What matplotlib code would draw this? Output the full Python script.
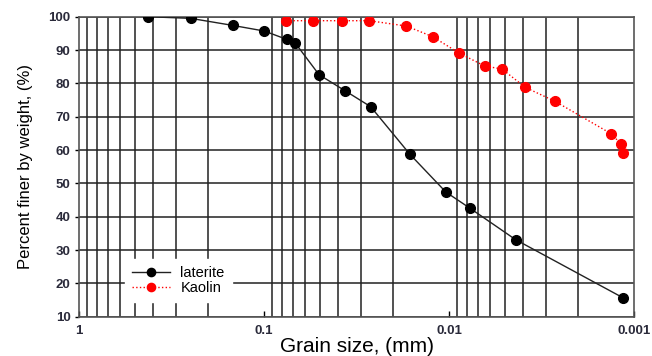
import matplotlib
matplotlib.use("Agg")
import matplotlib.pyplot as plt
from matplotlib.ticker import LogLocator, FixedLocator, NullFormatter

plt.rcParams['font.family'] = ['Liberation Sans', 'DejaVu Sans']

# Data
laterite_d = [0.424, 0.249, 0.148, 0.0996, 0.0754, 0.068, 0.0504, 0.0365, 0.0265,
              0.01625, 0.0104, 0.00773, 0.00436, 0.00114]
laterite_p = [100, 99.5, 97.4, 95.7, 93.2, 92.2, 82.6, 77.8, 73.0,
              58.7, 47.4, 42.6, 33.1, 15.6]
kaolin_d = [0.076, 0.0542, 0.038, 0.027, 0.017, 0.01225, 0.00883, 0.00641, 0.00517,
            0.00387, 0.00267, 0.00133, 0.00117, 0.00115]
kaolin_p = [98.8, 98.8, 98.8, 98.8, 97.2, 94.0, 89.1, 85.2, 84.3,
            78.8, 74.6, 64.9, 61.7, 59.1]
x_ticks = [1, 0.1, 0.01, 0.001]
x_tick_labels = ["1", "0.1", "0.01", "0.001"]
y_ticks = [10, 20, 30, 40, 50, 60, 70, 80, 90, 100]

fig = plt.figure(figsize=(6.52, 3.56), dpi=100)
ax = fig.add_axes([79/652, 1-316.7/356, 555/652, 300/356])

ax.set_xscale('log')
ax.set_xlim(1, 0.001)
ax.set_ylim(10, 100)

ax.plot(laterite_d, laterite_p, '-', color='#222222', lw=1.0, marker='o',
        markersize=7, markerfacecolor='black', markeredgecolor='black', label='laterite', zorder=3)
ax.plot(kaolin_d, kaolin_p, ':', color='red', lw=1.0, marker='o',
        markersize=7, markerfacecolor='red', markeredgecolor='red', label='Kaolin', zorder=3)

ax.xaxis.set_major_locator(FixedLocator(x_ticks))
ax.set_xticklabels(x_tick_labels)
ax.xaxis.set_minor_locator(LogLocator(base=10, subs=range(2, 10), numticks=20))
ax.xaxis.set_minor_formatter(NullFormatter())
ax.set_yticks(y_ticks)

ax.grid(False)
ax.grid(True, which='minor', axis='x', color='#222222', lw=1.1)
ax.grid(True, which='major', axis='y', color='#222222', lw=1.1)
ax.tick_params(axis='x', which='major', direction='in', length=4, width=1, pad=6)
ax.tick_params(axis='x', which='minor', length=0)
ax.tick_params(axis='y', which='major', length=3, width=1, pad=3)
ax.tick_params(axis='both', labelsize=9.5)
for lab in ax.get_xticklabels() + ax.get_yticklabels():
    lab.set_fontweight('bold')
    lab.set_color('#2a2a3a')

for s in ax.spines.values():
    s.set_color('#555555')
    s.set_linewidth(1.2)

ax.set_ylabel('Percent finer by weight, (%)', fontsize=12, labelpad=11)
ax.set_xlabel('Grain size, (mm)', fontsize=15, labelpad=0)

leg = ax.legend(loc='lower left', bbox_to_anchor=(0.083, 0.049), borderaxespad=0,
                frameon=True, fancybox=False, edgecolor='white', framealpha=1,
                fontsize=10.5, handlelength=2.6, handletextpad=0.7, labelspacing=0.05,
                borderpad=0.5, markerscale=0.85)

fig.savefig('out.png', dpi=100)
